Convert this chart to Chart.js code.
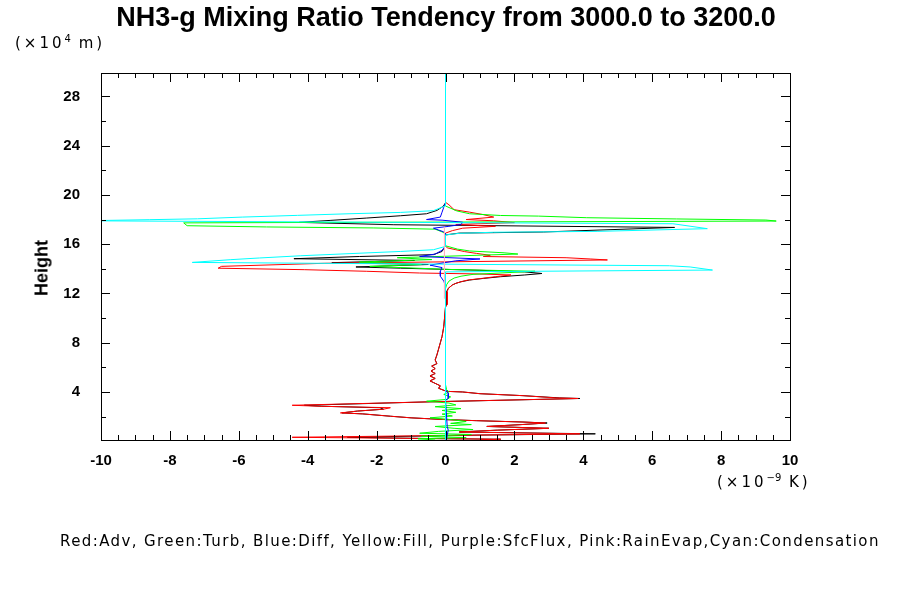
<!DOCTYPE html>
<html>
<head>
<meta charset="utf-8">
<script src="https://cdn.jsdelivr.net/npm/chart.js@4.4.1/dist/chart.umd.min.js"></script>
<style>
  body { margin: 0; background: #fff; }
  #wrap { position: relative; width: 900px; height: 600px; background: #fff; }
  #wrap div { position: absolute; white-space: nowrap; color: #000; }
  .title { left: 0; width: 892px; top: 2px; text-align: center; font: bold 27px "Liberation Sans", Arial, sans-serif; }
  .unit { font: 15px "DejaVu Sans", sans-serif; letter-spacing: 3px; }
  .unit sup { font-size: 10px; letter-spacing: 0; }
  .ytitle { left: 42px; top: 268px; transform: translate(-50%, -50%) rotate(-90deg); font: bold 18px "Liberation Sans", Arial, sans-serif; }
  .foot { left: 60px; top: 532px; font: 15px "DejaVu Sans", sans-serif; letter-spacing: 1.4px; }
</style>
</head>
<body>
<div id="wrap">
  <canvas id="profileChart" width="900" height="600"></canvas>
  <div class="title">NH3-g Mixing Ratio Tendency from 3000.0 to 3200.0</div>
  <div class="unit" style="left:15px; top:33px;">(×10<sup>4</sup> m)</div>
  <div class="unit" style="left:717px; top:472px;">(×10<sup>−9</sup> K)</div>
  <div class="ytitle">Height</div>
  <div class="foot">Red:Adv, Green:Turb, Blue:Diff, Yellow:Fill, Purple:SfcFlux, Pink:RainEvap,Cyan:Condensation</div>
</div>
<script>
// tick labels
const xTicks = [-10, -8, -6, -4, -2, 0, 2, 4, 6, 8, 10]
const yTicks = [4, 8, 12, 16, 20, 24, 28]

// Red: advection (height in 10^4 m, value in 10^-9 K)
const advZ = [19.4, 19.2, 18.8, 18.6, 18.4, 18.2, 18.0, 17.9, 17.75, 17.6, 17.45, 17.3, 17.1, 16.9,
  15.85, 15.7, 15.55, 15.4, 15.25, 15.1, 15.0, 14.9, 14.8, 14.72, 14.45, 14.2, 14.05, 13.93, 13.8, 13.66, 13.58, 13.5,
  13.36, 13.22, 13.09, 12.95, 12.82, 12.69, 12.41, 12.14, 11.1, 10.9,
  9.3, 8.5, 8.0, 7.5, 7.0, 6.6, 6.3, 6.1, 5.9, 5.7, 5.5, 5.3, 5.1, 4.9, 4.7, 4.5, 4.3, 4.05, 4.0, 3.86,
  3.7, 3.52, 3.47, 3.2, 2.92, 2.84, 2.72, 2.6, 2.45, 2.3, 2.22, 2.03, 1.9, 1.75, 1.67, 1.56, 1.48, 1.35, 1.2, 1.05,
  0.9, 0.75, 0.6, 0.5, 0.32, 0.22, 0.16, 0.1]
const advX = [0, 0.1, 0.25, 0.7, 1.1, 1.4, 0.6, 1.4, 2.0, 0.3, 1.45, 0.5, 0.2, 0,
  0, 0.05, 0.3, 0.55, 0.9, 1.3, 1.1, 3.5, 4.2, 4.7, -3.5, -6.5, -6.6, -4.1, -2.3, -0.75, 1.0, 1.9,
  1.45, 1.05, 0.65, 0.45, 0.3, 0.2, 0.08, 0.05, 0.05, 0,
  -0.05, -0.1, -0.15, -0.2, -0.25, -0.3, -0.25, -0.4, -0.3, -0.42, -0.3, -0.45, -0.3, -0.45, -0.3, -0.15, -0.2, 0.03, 0.5, 1.0,
  2.25, 3.2, 3.85, -0.45, -4.45, -3.65, -1.6, -1.8, -2.55, -3.05, -2.4, -1.6, -1.0, 0.05, 0.9, 2.25, 2.9, 2.2, 1.2, 3.0,
  1.5, 0.4, 3.9, 1.0, -4.45, -0.5, 1.6, 1.0]

// Black: total
const totZ = [19.35, 19.07, 18.74, 18.47, 18.31, 18.12, 17.93, 17.77, 17.58, 17.36, 16.99, 16.9, 16.75,
  15.87, 15.41, 15.15, 15.0, 14.82, 14.68, 14.5, 14.35, 14.15, 14.05, 13.88, 13.75, 13.62, 13.5,
  13.36, 13.22, 13.09, 12.95, 12.82, 12.69, 12.41, 12.14, 11.1, 10.9,
  9.3, 8.5, 8.0, 7.5, 7.0, 6.6, 6.3, 6.1, 5.9, 5.7, 5.5, 5.3, 5.1, 4.9, 4.7, 4.5, 4.3, 4.05, 4.0, 3.86,
  3.7, 3.52, 3.47, 3.2, 2.92, 2.84, 2.72, 2.6, 2.45, 2.3, 2.22, 2.03, 1.9, 1.75, 1.67, 1.56, 1.48, 1.35, 1.2, 1.05,
  0.9, 0.75, 0.6, 0.5, 0.32, 0.22, 0.16, 0.1]
const totX = [0, -0.07, -0.25, -0.55, -1.3, -2.3, -3.35, -4.25, -1.5, 6.65, 2.85, 0.4, 0,
  0, -0.1, -0.35, -2.5, -4.4, -0.9, -3.3, -0.5, -2.6, -1.3, 1.0, 2.3, 2.8, 2.3,
  1.6, 1.1, 0.7, 0.45, 0.3, 0.2, 0.08, 0.03, 0.03, 0,
  -0.05, -0.1, -0.15, -0.2, -0.25, -0.3, -0.25, -0.4, -0.3, -0.42, -0.3, -0.45, -0.3, -0.45, -0.3, -0.15, -0.2, 0.03, 0.5, 1.0,
  2.25, 3.3, 3.9, -0.45, -4.1, -3.6, -1.9, -1.8, -2.55, -3.0, -2.4, -1.6, -1.0, 0.05, 0.9, 2.25, 2.95, 2.2, 1.2, 3.0,
  1.5, 0.4, 4.35, 1.0, -2.85, -0.5, 1.6, 1.0]

// Green: turbulence
const turbZ = [19.35, 19.1, 18.7, 18.47, 18.33, 18.28, 18.15, 18.05, 17.96, 17.88, 17.73, 17.5, 17.4, 17.32, 17.22, 17.0, 16.85,
  15.87, 15.6, 15.45, 15.3, 15.2, 14.9, 14.75, 14.55, 14.35, 14.2, 13.95, 13.8, 13.55, 13.4, 13.25, 13.0, 12.7, 12.4,
  4.6, 4.2, 4.0, 3.8, 3.6, 3.4, 3.25, 3.1, 2.95, 2.8, 2.65, 2.5, 2.35, 2.2, 2.05, 1.9, 1.75, 1.6, 1.45, 1.35,
  1.2, 1.05, 0.95, 0.8, 0.65, 0.55, 0.4, 0.3, 0.2, 0.1]
const turbX = [0, 0, 0.33, 0.7, 1.6, 2.7, 4.1, 6.7, 9.3, 9.6, -7.6, -7.5, -5.2, -2.1, -0.3, -0.1, 0,
  0, 0.35, 0.7, 1.7, 2.1, -1.4, -0.4, -2.5, -0.7, -2.2, 0.1, 2.6, 0.8, 0.45, 0.25, 0.1, 0.03, 0,
  0, 0.03, 0.1, -0.05, 0.15, 0.05, -0.55, 0.1, 0.3, -0.3, 0.45, -0.1, 0.3, -0.1, 0.2, -0.45, 0.2, 0.6, 0.15, 0.75,
  -0.3, 0.25, 0.8, -0.2, -0.75, 0.75, -0.7, 0.6, -0.8, -0.3]

// Blue: diffusion
const diffZ = [19.35, 19.0, 18.6, 18.2, 18.0, 17.95, 17.78, 17.6, 17.45, 17.3, 17.15, 17.0, 16.85,
  15.87, 15.5, 15.2, 15.0, 14.8, 14.65, 14.3, 14.1, 13.8, 13.4, 13.0, 12.6,
  4.2, 3.9, 3.5, 3.3, 1.2, 0.9, 0.5, 0.1]
const diffX = [0, -0.05, -0.1, -0.15, -0.55, -0.1, 0.5, 0.45, 0.1, -0.35, -0.2, -0.05, 0,
  0, -0.1, -0.3, -0.75, 1.0, 0.3, -0.45, -0.1, -0.15, -0.15, -0.05, 0,
  0, 0.08, 0.08, 0, 0.05, 0.08, 0.05, 0.03]

// Cyan: condensation
const condZ = [29.9, 19.35, 19.12, 18.72, 18.58, 18.47, 18.34, 18.2, 18.06, 17.99, 17.9, 17.66, 17.26, 17.04, 16.97, 16.88, 16.75,
  15.82, 15.55, 15.41, 15.23, 15.06, 14.88, 14.74, 14.52, 14.25, 14.15, 13.9, 13.75, 0.1]
const condX = [0, 0, 0, -0.35, -1.3, -2.8, -4.3, -5.9, -7.2, -8.6, -10.5, 6.6, 7.6, 4.4, 1.4, 0.4, 0,
  0, -0.35, -1.3, -2.8, -4.2, -5.4, -6.25, -7.35, 6.5, 7.1, 7.75, 0, 0]

// Pink: rain evaporation
const rainZ = [17.4, 11.6]
const rainX = [-0.03, -0.03]

const toPoints = (zs, xs) => zs.map((z, i) => ({ x: xs[i], y: z }))

const line = (label, zs, xs, color) => ({
  label: label,
  data: toPoints(zs, xs),
  borderColor: color,
  borderWidth: 1,
  pointRadius: 0,
  showLine: true,
  tension: 0
})

// draws the box and the inward ticks on all four sides
const frameTicks = {
  id: 'frameTicks',
  afterDatasetsDraw(chart) {
    const { ctx, chartArea: a, scales: { x, y } } = chart
    ctx.save()
    ctx.strokeStyle = '#000'
    ctx.lineWidth = 1
    ctx.beginPath()
    for (let v = -10; v <= 10; v += 0.5) {
      const px = Math.round(x.getPixelForValue(v)) + 0.5
      const len = v % 2 === 0 ? 9 : 5
      ctx.moveTo(px, a.bottom); ctx.lineTo(px, a.bottom - len)
      ctx.moveTo(px, a.top); ctx.lineTo(px, a.top + len)
    }
    for (let v = 2; v <= 28; v += 2) {
      const py = Math.round(y.getPixelForValue(v)) + 0.5
      const len = v % 4 === 0 ? 9 : 5
      ctx.moveTo(a.left, py); ctx.lineTo(a.left + len, py)
      ctx.moveTo(a.right, py); ctx.lineTo(a.right - len, py)
    }
    ctx.stroke()
    ctx.strokeRect(Math.round(a.left) + 0.5, Math.round(a.top) + 0.5,
      Math.round(a.right - a.left), Math.round(a.bottom - a.top))
    ctx.restore()
  }
}

const tickFont = { family: '"Liberation Sans", Arial, sans-serif', size: 15, weight: 'bold' }

new Chart(document.getElementById('profileChart'), {
  type: 'scatter',
  data: {
    datasets: [
      line('RainEvap', rainZ, rainX, '#ffb0c0'),
      line('Condensation', condZ, condX, '#00ffff'),
      line('Diff', diffZ, diffX, '#0000ff'),
      line('Turb', turbZ, turbX, '#00ff00'),
      line('Adv', advZ, advX, '#ff0000'),
      line('Total', totZ, totX, '#000000')
    ]
  },
  options: {
    responsive: false,
    devicePixelRatio: 1,
    animation: false,
    layout: { padding: { left: 0, right: 110, top: 73, bottom: 0 } },
    plugins: {
      legend: { display: false },
      tooltip: { enabled: false }
    },
    scales: {
      x: {
        type: 'linear',
        min: -10,
        max: 10,
        afterBuildTicks: (scale) => { scale.ticks = xTicks.map(v => ({ value: v })) },
        afterFit: (scale) => { scale.height = 160 },
        grid: { display: false },
        border: { display: false },
        ticks: { color: '#000', font: tickFont, padding: 4, maxRotation: 0, autoSkip: false }
      },
      y: {
        type: 'linear',
        min: 0.1,
        max: 29.9,
        afterBuildTicks: (scale) => { scale.ticks = yTicks.map(v => ({ value: v })) },
        afterFit: (scale) => { scale.width = 101 },
        grid: { display: false },
        border: { display: false },
        ticks: { color: '#000', font: tickFont, padding: 13, autoSkip: false }
      }
    }
  },
  plugins: [frameTicks]
})
</script>
</body>
</html>
